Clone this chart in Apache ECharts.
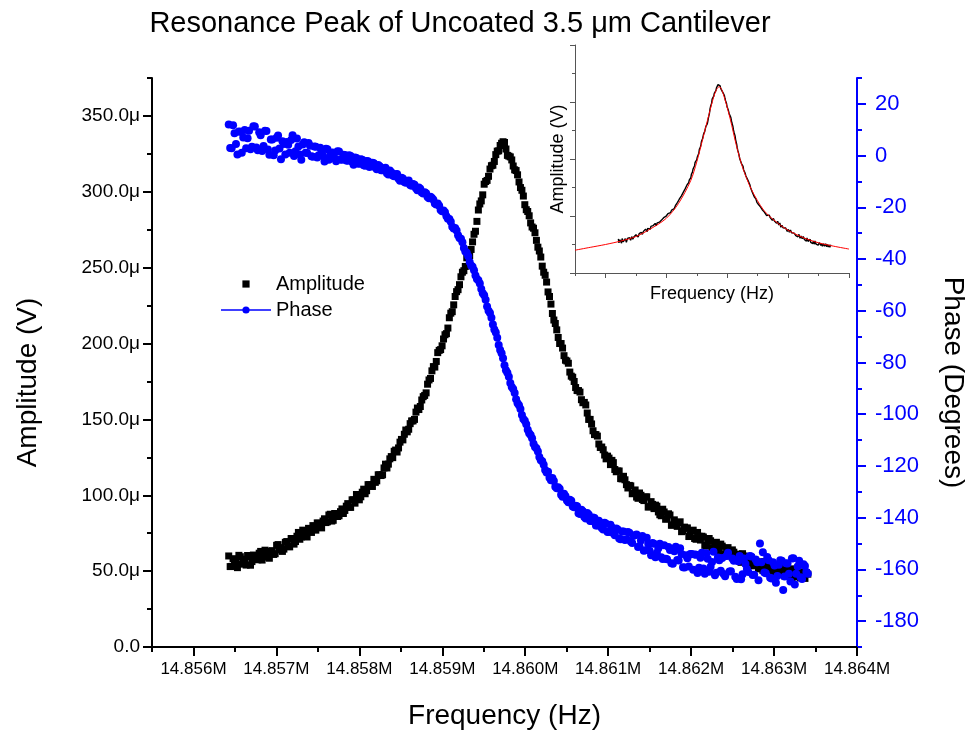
<!DOCTYPE html>
<html><head><meta charset="utf-8">
<script src="https://cdn.jsdelivr.net/npm/echarts@6/dist/echarts.min.js"></script>
<style>html,body{margin:0;padding:0;background:#fff;overflow:hidden}#c{width:967px;height:732px}</style>
</head><body><div id="c"></div>
<script>
// Sweep grid (Hz): points at freqStart + i*freqStep, and half-step points in between
const freqStart = 14856425;
const freqStep = 35;
// Amplitude (µV), on-step points
const amplitude = [
60,53.1,57.2,52.3,59.5,55.7,54,59.5,56.3,59.9,
57.5,63,59.5,63,58.5,63.5,61.5,67.5,65.5,64.5,
69.5,66,71,69.5,75.5,72.5,76.5,72.5,78,80,
77,81.5,78.5,84.5,82.5,87.5,83.5,87.5,86.5,91,
90,94.5,92,97,100.5,97,102,101,107,106,
110.5,109.5,113.5,113.5,120.5,120.5,125.5,129,128.5,135,
136.5,143,143.5,149,150,157.5,158.5,165,167.5,176,
182,184.5,194,196,203,206.5,217,221,231,235.5,
244,248,256.5,258,267,274,288,294,305,307.5,
315,317.5,324.5,327,332,332.5,324,323,317,314,
306.5,301,291.5,287,279.5,276,268,261,251,245,
234,226,215.5,209,200,197,189,187,178.5,175,
169,168,161,159.5,150,147,140,139,131.5,130,
124,124.5,123,117,116,111,112.5,107,106.5,101,
103.5,98,100,96.5,99,92.5,94,93.5,89,86.5,
89,84.5,87,80.5,82,82,76,79,78.5,74,
77,71,73,73,67,70,70,65,69,64,
66.5,60.5,65.5,60.5,62.5,57.5,60,61.5,55.5,58,
59,53.5,56,56,50.5,55,51.5,55,49.5,52,
48.5,53,48.5,51,45.5,49.5,50,45.5,48.5,49
];
// Amplitude (µV), half-step points
const amplitudeHalf = [
53,58.2,55.3,60.4,54.6,57.9,60.3,53.9,60.6,58.2,
61.8,57.3,63.8,59.3,63,61,67,64,63,69,
66.2,71.5,67.8,73,71,77,74,78.2,75.5,79.5,
81.8,79,83,82,87,83,88,86,89.2,88,
92.8,92.2,97,94.8,99.2,99,104,103,107,105.8,
108.5,113.5,113,118,118,124,124.8,129.8,131.2,136.8,
140.2,141.8,147.2,149,154.8,156.5,162.8,165.8,173.2,177,
184.8,188.2,195.5,198.5,205.8,210.2,220,225.5,234.2,238.8,
247,250.8,258.2,262,272,280.5,292,298,306.8,310.2,
317.2,320,326.8,330.5,333,328.2,323.5,321,314.5,311.2,
302.8,297.2,288.2,284.2,276.8,273,263.5,257,247,240.5,
231,219.8,213.2,204,200,192,188.5,181.2,177.8,171,
169,163,161.2,154.2,150,142.5,140,133.8,131.8,126.5,
125.8,120.2,121.5,115.5,116,110.8,110.2,104.8,106.2,101.2,
98.8,101.5,97.2,98.8,92.2,95.8,91.2,92.8,87.2,90.8,
84.2,87.8,80.2,83.8,79.5,82.5,76.5,78.2,72.8,76.5,
71.5,75.5,70.5,72.5,66.5,71.5,65.5,67.5,63.5,67.8,
61,65,60,64,59,61.2,55.8,60,58.2,54.5,
53.8,57.2,51.5,54.8,56.2,50.8,54.2,48.8,53.2,49.8,
52.2,46.8,51.2,46.8,51.5,46.2,48.8,49.5,45.2,48
];
// Phase (degrees), on-step points
const phase = [
12,2.8,8.6,0.4,9.2,7,2.8,9.6,3.4,11.2,
2.1,7.9,3.7,9.5,0.3,6.2,2,7.8,-1.4,4.5,
5.3,1.1,7.9,1.7,3.5,-1.6,5.2,1,3.8,-0.4,
3.4,0.1,1.9,-2.3,2.5,0.3,1.1,-2.2,1.6,-1.6,
0.2,-2,-0.2,-3.5,-0.9,-3.2,-1.6,-3.9,-2.2,-3.6,
-3,-5.3,-4.1,-5.7,-4.7,-7.3,-6.4,-8,-7.1,-9.7,
-8.9,-10.5,-9.6,-11.7,-11.3,-13.4,-12.8,-14.7,-14.6,-16.5,
-16.4,-18.5,-18.5,-21,-21.2,-23.5,-24.5,-27.5,-28,-30.8,
-32.2,-35.7,-37.6,-41.1,-43,-46.4,-48.2,-51.6,-54,-58.3,
-60.9,-65.3,-68.4,-73.2,-76.4,-81.1,-84,-87.9,-90.2,-94.2,
-96.5,-100.3,-102.5,-106,-108,-111.4,-113.2,-116.5,-118.2,-121.6,
-122.2,-125.5,-125.8,-128.6,-128.8,-131.9,-131.6,-134,-133.5,-136,
-135.6,-138.6,-137.5,-140.3,-138.8,-141.3,-140.1,-143,-142.1,-144.6,
-142.3,-145.5,-143.8,-146.8,-144.6,-148.3,-145.3,-148.3,-145.8,-149.8,
-146.8,-151.3,-148.8,-152.8,-147.8,-152.8,-149.8,-155.3,-151.8,-155.3,
-150.7,-156.1,-152.5,-157.8,-151.2,-156.6,-154,-159.3,-155.7,-154,
-160.1,-154.3,-159.4,-153.6,-161.7,-155.9,-159,-153.2,-161.3,-156.5,
-155.6,-162.6,-153.6,-160.7,-156.7,-163.7,-154.8,-161.9,-157.9,-161,
-155,-162.1,-157.2,-150,-153.4,-161.5,-156.5,-163.5,-158.5,-162.5,
-156.5,-168,-157.6,-161.7,-155.8,-165.8,-158.9,-163,-158,-161
];
// Phase (degrees), half-step points
const phaseHalf = [
2.9,11.7,4.5,9.3,1.1,9.9,6.7,2.5,11.3,3.15,
9,1.8,9.6,2.4,6.25,0.1,6.9,2.7,5.55,0.4,
4.2,6,-0.2,6.6,0.45,4.3,1.1,4.9,-0.3,3.5,
-0.75,3,-0.2,2.6,-1.6,1.2,-1.05,1.7,-1.5,0.3,
-1.9,0.1,-2.35,-0.7,-3.05,-1.4,-3.75,-2.05,-4.4,-2.8,
-4.65,-3.65,-5.7,-4.95,-6.8,-5.8,-7.7,-7.2,-9,-8.55,
-10.2,-9.8,-11.4,-11,-12.6,-12.35,-14.25,-14.15,-16.05,-15.95,
-17.05,-18.9,-19.35,-21.5,-21.95,-24.4,-25.6,-28.15,-29,-31.85,
-33.55,-37.05,-38.95,-42.45,-44.3,-47.7,-49.5,-53.2,-55.75,-60,
-62.7,-67.25,-70.4,-75.2,-78.35,-82.95,-85.55,-89.45,-91.8,-95.75,
-98,-101.8,-103.85,-107.4,-109.3,-112.7,-114.45,-117.75,-119.5,-122.5,
-124.55,-124.7,-128.05,-128.2,-131.15,-130.75,-133.35,-133.05,-135.65,-135.35,
-138.3,-136.95,-139.7,-138.15,-141.25,-139.9,-143.05,-141.15,-143.95,-142,
-145.55,-142.75,-146.05,-144.15,-148.05,-145.35,-148.65,-145.55,-149.25,-146.95,
-146.55,-151.05,-147.05,-152.55,-150.05,-154.55,-150.05,-153.55,-150.05,-156,
-155.9,-151.3,-157.65,-153,-156.4,-151.8,-159.15,-154.5,-158.85,-154.05,
-154.2,-161.35,-155.5,-159.65,-153.8,-160.95,-157.1,-162.25,-155.4,-160.55,
-161.8,-154.8,-160.8,-155.8,-162.8,-156.8,-163.8,-155.8,-159.8,-154.8,
-162.2,-156.2,-164.2,-157.2,-161.2,-155.2,-163.2,-157.2,-165.2,-158.2,
-156.7,-162.7,-157.7,-164.7,-155.7,-161.7,-156.7,-163.7,-158.7,-161.7
];
// Lorentzian fit curve in the inset
const fitFreq = [14855000,14855500,14856000,14856500,14857000,14857500,14858000,14858400,14858800,14859000,14859200,14859400,14859550,14859650,14859740,14859830,14859950,14860100,14860300,14860500,14860800,14861200,14861600,14862000,14862500,14863000,14863500,14864000];
const fitAmp = [40,45,50,56,64,78,96,122,162,195,236,278,308,322,327,320,300,270,224,186,146,110,90,75,62,53,47,42];
// Tick positions
const xMajorTicks = [14856000,14857000,14858000,14859000,14860000,14861000,14862000,14863000,14864000];
const xMinorTicks = [14855500,14856500,14857500,14858500,14859500,14860500,14861500,14862500,14863500];
const ampMajorTicks = [0,50,100,150,200,250,300,350];
const ampMinorTicks = [25,75,125,175,225,275,325,375];
const phaseMajorTicks = [-180,-160,-140,-120,-100,-80,-60,-40,-20,0,20];
const phaseMinorTicks = [-190,-170,-150,-130,-110,-90,-70,-50,-30,-10,10,30];
const insetXMajor = [14856000,14858000,14860000,14862000,14864000];
const insetXMinor = [14855000,14857000,14859000,14861000,14863000];

const FF = '"Liberation Sans", Arial, sans-serif';
const BLUE = '#0000ff';
function sweep(onStep, halfStep) {
  const out = [];
  onStep.forEach((v, i) => {
    out.push([freqStart + i * freqStep, v]);
    if (i < halfStep.length) out.push([freqStart + i * freqStep + freqStep / 2, halfStep[i]]);
  });
  return out;
}
const ampData = sweep(amplitude, amplitudeHalf);
const phaseData = sweep(phase, phaseHalf);
const fitData = fitFreq.map((f, i) => [f, fitAmp[i]]);

const chart = echarts.init(document.getElementById('c'), null, {renderer: 'canvas'});
const axLine = c => ({show: true, lineStyle: {color: c, width: 2}});
chart.setOption({
  animation: false,
  backgroundColor: '#fff',
  textStyle: {fontFamily: FF},
  title: {
    text: 'Resonance Peak of Uncoated 3.5 μm Cantilever',
    left: 455, top: 4, textAlign: 'center',
    textStyle: {fontFamily: FF, fontSize: 29, fontWeight: 'normal', color: '#000'}
  },
  legend: {
    left: 220, top: 274, padding: 0, orient: 'vertical', itemWidth: 50, itemHeight: 9, itemGap: 6,
    selectedMode: false,
    textStyle: {fontFamily: FF, fontSize: 20, color: '#000'},
    data: [
      {name: 'Amplitude', lineStyle: {opacity: 0}},
      {name: 'Phase', lineStyle: {opacity: 1, width: 1.5, color: BLUE}}
    ]
  },
  grid: [
    {left: 152, top: 78, width: 705, height: 569, containLabel: false, outerBoundsMode: 'none'},
    {left: 575, top: 45, width: 274, height: 228, containLabel: false, outerBoundsMode: 'none'}
  ],
  xAxis: [
    {gridIndex: 0, type: 'value', position: 'bottom', min: 14855500, max: 14864000,
     axisLine: axLine('#000'), splitLine: {show: false},
     axisTick: {show: true, customValues: xMajorTicks, length: 9, lineStyle: {color: '#000', width: 2}},
     axisLabel: {show: true, customValues: xMajorTicks, margin: 14, fontSize: 17, color: '#000', fontFamily: FF,
       formatter: v => (v / 1e6).toFixed(3) + 'M'},
     name: 'Frequency (Hz)', nameLocation: 'middle', nameGap: 55,
     nameTextStyle: {fontSize: 28, color: '#000', fontFamily: FF}},
    {gridIndex: 0, type: 'value', position: 'bottom', min: 14855500, max: 14864000,
     axisLine: {show: false}, splitLine: {show: false},
     axisTick: {show: true, customValues: xMinorTicks, length: 5, lineStyle: {color: '#000', width: 2}},
     axisLabel: {show: false}},
    {gridIndex: 1, type: 'value', position: 'bottom', min: 14855000, max: 14864000,
     axisLine: {show: true, lineStyle: {color: '#555', width: 1}}, splitLine: {show: false},
     axisTick: {show: true, customValues: insetXMajor, length: 5, lineStyle: {color: '#555', width: 1}},
     axisLabel: {show: false},
     name: 'Frequency (Hz)', nameLocation: 'middle', nameGap: 12,
     nameTextStyle: {fontSize: 18, color: '#000', fontFamily: FF}},
    {gridIndex: 1, type: 'value', position: 'bottom', min: 14855000, max: 14864000,
     axisLine: {show: false}, splitLine: {show: false},
     axisTick: {show: true, customValues: insetXMinor, length: 3, lineStyle: {color: '#555', width: 1}},
     axisLabel: {show: false}}
  ],
  yAxis: [
    {gridIndex: 0, type: 'value', position: 'left', min: 0, max: 375,
     axisLine: axLine('#000'), splitLine: {show: false},
     axisTick: {show: true, customValues: ampMajorTicks, length: 9, lineStyle: {color: '#000', width: 2}},
     axisLabel: {show: true, customValues: ampMajorTicks, margin: 12, fontSize: 19, color: '#000', fontFamily: FF,
       formatter: v => v === 0 ? '0.0' : v.toFixed(1) + 'μ'},
     name: 'Amplitude (V)', nameLocation: 'middle', nameGap: 110,
     nameTextStyle: {fontSize: 28, color: '#000', fontFamily: FF, padding: [0, 40, 0, 0]}},
    {gridIndex: 0, type: 'value', position: 'left', min: 0, max: 375,
     axisLine: {show: false}, splitLine: {show: false},
     axisTick: {show: true, customValues: ampMinorTicks, length: 5, lineStyle: {color: '#000', width: 2}},
     axisLabel: {show: false}},
    {gridIndex: 0, type: 'value', position: 'right', min: -190, max: 30,
     axisLine: axLine(BLUE), splitLine: {show: false},
     axisTick: {show: true, customValues: phaseMajorTicks, length: 9, lineStyle: {color: BLUE, width: 2}},
     axisLabel: {show: true, customValues: phaseMajorTicks, margin: 18, fontSize: 22, color: BLUE, fontFamily: FF},
     name: 'Phase (Degrees)', nameLocation: 'middle', nameGap: 82, nameRotate: -90,
     nameTextStyle: {fontSize: 28, color: '#000', fontFamily: FF, padding: [0, 0, 0, 40]}},
    {gridIndex: 0, type: 'value', position: 'right', min: -190, max: 30,
     axisLine: {show: false}, splitLine: {show: false},
     axisTick: {show: true, customValues: phaseMinorTicks, length: 5, lineStyle: {color: BLUE, width: 2}},
     axisLabel: {show: false}},
    {gridIndex: 1, type: 'value', position: 'left', min: 0, max: 400, interval: 100,
     axisLine: {show: true, lineStyle: {color: '#555', width: 1}}, splitLine: {show: false},
     axisTick: {show: true, length: 5, lineStyle: {color: '#555', width: 1}},
     minorTick: {show: true, splitNumber: 2, length: 3, lineStyle: {color: '#555', width: 1}},
     minorSplitLine: {show: false},
     axisLabel: {show: false},
     name: 'Amplitude (V)', nameLocation: 'middle', nameGap: 8,
     nameTextStyle: {fontSize: 18, color: '#000', fontFamily: FF}}
  ],
  series: [
    {name: 'Amplitude', type: 'line', xAxisIndex: 0, yAxisIndex: 0, data: ampData,
     symbol: 'rect', symbolSize: 7, showSymbol: true, showAllSymbol: true,
     itemStyle: {color: '#000'}, lineStyle: {opacity: 0, color: '#000'}, silent: true, z: 2},
    {name: 'Phase', type: 'line', xAxisIndex: 0, yAxisIndex: 2, data: phaseData,
     symbol: 'circle', symbolSize: 8, showSymbol: true, showAllSymbol: true,
     itemStyle: {color: BLUE}, lineStyle: {opacity: 0, color: BLUE}, silent: true, z: 3},
    {name: 'insetData', type: 'line', xAxisIndex: 2, yAxisIndex: 4, data: ampData,
     showSymbol: false, lineStyle: {color: '#000', width: 1.4}, silent: true, z: 4},
    {name: 'insetFit', type: 'line', xAxisIndex: 2, yAxisIndex: 4, data: fitData,
     showSymbol: false, smooth: 0.3, lineStyle: {color: '#ff0000', width: 1}, silent: true, z: 5}
  ]
});
</script>
</body></html>
